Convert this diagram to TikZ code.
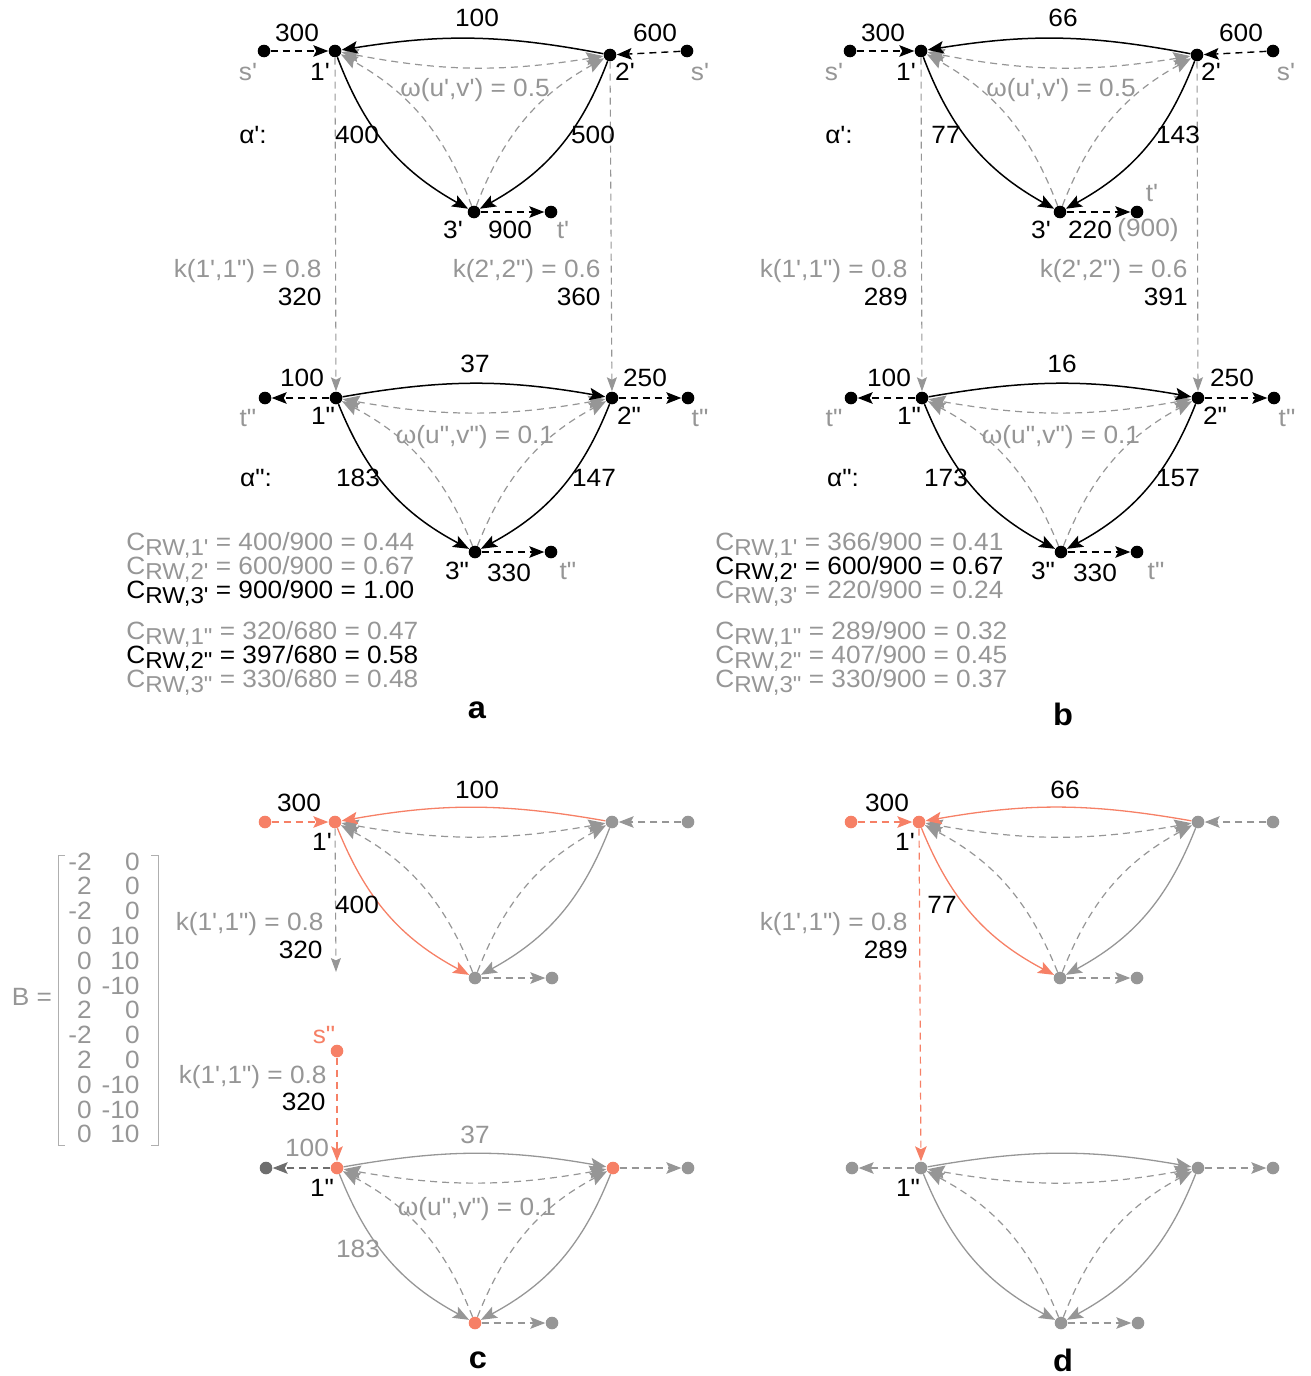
\documentclass[tikz,border=0pt]{standalone}
\usepackage{fontspec}
\newfontfamily\lsans{Liberation Sans}[FakeStretch=1.05]
\usetikzlibrary{arrows.meta}
\definecolor{gr}{RGB}{150,150,150}
\definecolor{lgr}{RGB}{175,175,175}
\definecolor{org}{RGB}{246,128,102}
\definecolor{dgr}{RGB}{110,110,110}
\newcommand{\crw}[1]{C\raisebox{-2.6pt}{\fontsize{11.5}{13}\selectfont RW,#1}}
\newcommand{\omarcs}[3]{%
  \draw[gbi] (#2) to[bend left=10] (#1);
  \draw[gdsh] (#3) to[bend right=20] (#1);
  \draw[gdsh] (#3) to[bend left=20] (#2);
}
\tikzset{
  dot/.style={circle,fill=black,draw=none,inner sep=0pt,minimum size=6.3pt},
  gdot/.style={dot,fill=gr},
  odot/.style={dot,fill=org},
  ddot/.style={dot,fill=dgr},
  sol/.style={line width=0.75pt,arrows={-Stealth[length=8pt,width=6.2pt,inset=1.6pt]}},
  gsol/.style={sol,draw=gr,line width=0.65pt},
  osol/.style={sol,draw=org,line width=0.65pt},
  dsh/.style={line width=0.7pt,dash pattern=on 3.5pt off 2.5pt,arrows={-Stealth[length=7.5pt,width=5.8pt,inset=1.5pt]}},
  gdsh/.style={dsh,draw=gr,line width=0.6pt,arrows={-Stealth[length=8.5pt,width=6.6pt,inset=1.2pt]}},
  vdsh/.style={dsh,draw=gr,line width=0.55pt,arrows={-Stealth[length=7pt,width=5pt,inset=1.2pt]}},
  odsh/.style={dsh,draw=org,line width=0.65pt},
  ddsh/.style={dsh,draw=dgr,line width=0.6pt},
  hdsh/.style={dsh,draw=gr,line width=0.6pt},
  gbi/.style={gdsh,arrows={Stealth[length=8.5pt,width=6.6pt,inset=1.2pt]-Stealth[length=8.5pt,width=6.6pt,inset=1.2pt]}},
  lbl/.style={inner sep=0pt},
  glbl/.style={lbl,text=gr},
  olbl/.style={lbl,text=org},
  panel/.style={lbl,font=\lsans\bfseries\fontsize{15.5}{18}\selectfont},
}
\begin{document}
\begin{tikzpicture}[x=0.5pt,y=-0.5pt,font=\lsans\fontsize{12.5}{15}\selectfont]
\useasboundingbox (0,0) rectangle (1311,1376);

% ================= panel a =================
\node[dot] (a1) at (335,51) {};
\node[dot] (a2) at (610,55) {};
\node[dot] (a3) at (474,212) {};
\node[dot] (asL) at (264,51) {};
\node[dot] (asR) at (687,51) {};
\node[dot] (at) at (551,212) {};
\node[dot] (aa1) at (336,398) {};
\node[dot] (aa2) at (612,398) {};
\node[dot] (aa3) at (475,552) {};
\node[dot] (aatL) at (265,398) {};
\node[dot] (aatR) at (688,398) {};
\node[dot] (aatB) at (551,552) {};
\omarcs{a1}{a2}{a3}
\omarcs{aa1}{aa2}{aa3}
\draw[vdsh] (a1) -- (aa1);
\draw[vdsh] (a2) -- (aa2);
\draw[sol] (a2) to[bend right=10] (a1);
\draw[sol] (a1) to[bend right=20] (a3);
\draw[sol] (a2) to[bend left=20] (a3);
\draw[dsh] (asL) -- (a1);
\draw[dsh] (asR) -- (a2);
\draw[dsh] (a3) -- (at);
\draw[sol] (aa1) to[bend left=10] (aa2);
\draw[sol] (aa1) to[bend right=20] (aa3);
\draw[sol] (aa2) to[bend left=20] (aa3);
\draw[dsh] (aa1) -- (aatL);
\draw[dsh] (aa2) -- (aatR);
\draw[dsh] (aa3) -- (aatB);

\node[lbl] (la1) at (297,33) {300};
\node[lbl] (la2) at (477,18) {100};
\node[lbl] (la3) at (655,33) {600};
\node[glbl] (la4) at (248,72) {s'};
\node[lbl] (la5) at (320,72) {1'};
\node[lbl] (la6) at (625,72) {2'};
\node[glbl] (la7) at (700,72) {s'};
\node[glbl] (la8) at (475,90) {ω(u',v') = 0.5};
\node[lbl] (la9) at (253,135) {α':};
\node[lbl] (la10) at (357,135) {400};
\node[lbl] (la11) at (593,135) {500};
\node[lbl] (la12) at (453,230) {3'};
\node[lbl] (la13) at (510,230) {900};
\node[glbl] (la14) at (563,230) {t'};
\node[glbl,anchor=east] (la15) at (322,271) {k(1',1") = 0.8};
\node[lbl,anchor=east] (la16) at (322,297) {320};
\node[glbl,anchor=east] (la17) at (601,271) {k(2',2") = 0.6};
\node[lbl,anchor=east] (la18) at (601,297) {360};
\node[lbl] (la19) at (302,378) {100};
\node[glbl] (la20) at (248,418) {t"};
\node[lbl] (la21) at (323,416) {1"};
\node[lbl] (la22) at (475,364) {37};
\node[lbl] (la23) at (645,378) {250};
\node[lbl] (la24) at (629,416) {2"};
\node[glbl] (la25) at (700,418) {t"};
\node[glbl] (la26) at (475,437) {ω(u",v") = 0.1};
\node[lbl] (la27) at (256,478) {α":};
\node[lbl] (la28) at (358,478) {183};
\node[lbl] (la29) at (594,478) {147};
\node[lbl] (la30) at (457,571) {3"};
\node[lbl] (la31) at (509,573) {330};
\node[glbl] (la32) at (568,571) {t"};
\node[glbl,anchor=base west] (ca1) at (126,550) {\crw{1'} = 400/900 = 0.44};
\node[glbl,anchor=base west] (ca2) at (126,574) {\crw{2'} = 600/900 = 0.67};
\node[lbl,anchor=base west] (ca3) at (126,598) {\crw{3'} = 900/900 = 1.00};
\node[glbl,anchor=base west] (ca4) at (126,639) {\crw{1"} = 320/680 = 0.47};
\node[lbl,anchor=base west] (ca5) at (126,663) {\crw{2"} = 397/680 = 0.58};
\node[glbl,anchor=base west] (ca6) at (126,687) {\crw{3"} = 330/680 = 0.48};
\node[panel] (pa) at (477,710) {a};

% ================= panel b =================
\node[dot] (b1) at (921,51) {};
\node[dot] (b2) at (1197,55) {};
\node[dot] (b3) at (1060,212) {};
\node[dot] (bsL) at (850,51) {};
\node[dot] (bsR) at (1273,51) {};
\node[dot] (bt) at (1137,212) {};
\node[dot] (bb1) at (922,398) {};
\node[dot] (bb2) at (1198,398) {};
\node[dot] (bb3) at (1061,552) {};
\node[dot] (bbtL) at (851,398) {};
\node[dot] (bbtR) at (1274,398) {};
\node[dot] (bbtB) at (1137,552) {};
\omarcs{b1}{b2}{b3}
\omarcs{bb1}{bb2}{bb3}
\draw[vdsh] (b1) -- (bb1);
\draw[vdsh] (b2) -- (bb2);
\draw[sol] (b2) to[bend right=10] (b1);
\draw[sol] (b1) to[bend right=20] (b3);
\draw[sol] (b2) to[bend left=20] (b3);
\draw[dsh] (bsL) -- (b1);
\draw[dsh] (bsR) -- (b2);
\draw[dsh] (b3) -- (bt);
\draw[sol] (bb1) to[bend left=10] (bb2);
\draw[sol] (bb1) to[bend right=20] (bb3);
\draw[sol] (bb2) to[bend left=20] (bb3);
\draw[dsh] (bb1) -- (bbtL);
\draw[dsh] (bb2) -- (bbtR);
\draw[dsh] (bb3) -- (bbtB);

\node[lbl] (lb1) at (883,33) {300};
\node[lbl] (lb2) at (1063,18) {66};
\node[lbl] (lb3) at (1241,33) {600};
\node[glbl] (lb4) at (834,72) {s'};
\node[lbl] (lb5) at (906,72) {1'};
\node[lbl] (lb6) at (1211,72) {2'};
\node[glbl] (lb7) at (1286,72) {s'};
\node[glbl] (lb8) at (1061,90) {ω(u',v') = 0.5};
\node[lbl] (lb9) at (839,135) {α':};
\node[lbl] (lb10) at (946,135) {77};
\node[lbl] (lb11) at (1178,135) {143};
\node[glbl] (lb12) at (1152,193) {t'};
\node[lbl] (lb13) at (1041,230) {3'};
\node[lbl] (lb14) at (1090,230) {220};
\node[glbl] (lb15) at (1148,230) {(900)};
\node[glbl,anchor=east] (lb16) at (908,271) {k(1',1") = 0.8};
\node[lbl,anchor=east] (lb17) at (908,297) {289};
\node[glbl,anchor=east] (lb18) at (1188,271) {k(2',2") = 0.6};
\node[lbl,anchor=east] (lb19) at (1188,297) {391};
\node[lbl] (lb20) at (889,378) {100};
\node[glbl] (lb21) at (834,418) {t"};
\node[lbl] (lb22) at (909,416) {1"};
\node[lbl] (lb23) at (1062,364) {16};
\node[lbl] (lb24) at (1232,378) {250};
\node[lbl] (lb25) at (1215,416) {2"};
\node[glbl] (lb26) at (1287,418) {t"};
\node[glbl] (lb27) at (1061,437) {ω(u",v") = 0.1};
\node[lbl] (lb28) at (843,478) {α":};
\node[lbl] (lb29) at (946,478) {173};
\node[lbl] (lb30) at (1178,478) {157};
\node[lbl] (lb31) at (1043,571) {3"};
\node[lbl] (lb32) at (1095,573) {330};
\node[glbl] (lb33) at (1156,571) {t"};
\node[glbl,anchor=base west] (cb1) at (715,550) {\crw{1'} = 366/900 = 0.41};
\node[lbl,anchor=base west] (cb2) at (715,574) {\crw{2'} = 600/900 = 0.67};
\node[glbl,anchor=base west] (cb3) at (715,598) {\crw{3'} = 220/900 = 0.24};
\node[glbl,anchor=base west] (cb4) at (715,639) {\crw{1"} = 289/900 = 0.32};
\node[glbl,anchor=base west] (cb5) at (715,663) {\crw{2"} = 407/900 = 0.45};
\node[glbl,anchor=base west] (cb6) at (715,687) {\crw{3"} = 330/900 = 0.37};
\node[panel] (pb) at (1063,714) {b};

% ================= panel c =================
\node[odot] (c1) at (335,822) {};
\node[gdot] (c2) at (612,822) {};
\node[gdot] (c3) at (475,978) {};
\node[odot] (csL) at (265,822) {};
\node[gdot] (csR) at (688,822) {};
\node[gdot] (ct) at (552,978) {};
\coordinate (cv) at (336,972);
\node[odot] (css) at (337,1051) {};
\node[odot] (cc1) at (337,1168) {};
\node[odot] (cc2) at (613,1168) {};
\node[odot] (cc3) at (475,1323) {};
\node[ddot] (cctL) at (266,1168) {};
\node[gdot] (cctR) at (688,1168) {};
\node[gdot] (cctB) at (552,1323) {};
\omarcs{c1}{c2}{c3}
\omarcs{cc1}{cc2}{cc3}
\draw[vdsh] (c1) -- (cv);
\draw[osol] (c2) to[bend right=10] (c1);
\draw[osol] (c1) to[bend right=20] (c3);
\draw[gsol] (c2) to[bend left=20] (c3);
\draw[odsh] (csL) -- (c1);
\draw[hdsh] (csR) -- (c2);
\draw[hdsh] (c3) -- (ct);
\draw[odsh] (css) -- (cc1);
\draw[gsol] (cc1) to[bend left=10] (cc2);
\draw[gsol] (cc1) to[bend right=20] (cc3);
\draw[gsol] (cc2) to[bend left=20] (cc3);
\draw[ddsh] (cc1) -- (cctL);
\draw[hdsh] (cc2) -- (cctR);
\draw[hdsh] (cc3) -- (cctB);

\node[lbl] (lc1) at (299,803) {300};
\node[lbl] (lc2) at (322,842) {1'};
\node[lbl] (lc3) at (477,790) {100};
\node[lbl] (lc4) at (357,905) {400};
\node[glbl,anchor=east] (lc5) at (324,924) {k(1',1") = 0.8};
\node[lbl,anchor=east] (lc6) at (323,950) {320};
\node[olbl] (lc7) at (324,1035) {s"};
\node[glbl,anchor=east] (lc8) at (327,1077) {k(1',1") = 0.8};
\node[lbl,anchor=east] (lc9) at (326,1102) {320};
\node[glbl] (lc10) at (307,1148) {100};
\node[lbl] (lc11) at (322,1188) {1"};
\node[glbl] (lc12) at (475,1135) {37};
\node[glbl] (lc13) at (477,1209) {ω(u",v") = 0.1};
\node[glbl] (lc14) at (358,1249) {183};
\node[panel] (pc) at (478,1360) {c};

% matrix B
\node[glbl] (lB) at (32,997) {B =};
\draw[lgr,line width=0.5pt] (65,855) -- (58,855) -- (58,1145) -- (65,1145);
\draw[lgr,line width=0.5pt] (151,855) -- (158,855) -- (158,1145) -- (151,1145);
\foreach \i/\u/\v in {0/-2/0,1/2/0,2/-2/0,3/0/10,4/0/10,5/0/-10,6/2/0,7/-2/0,8/2/0,9/0/-10,10/0/-10,11/0/10}{
  \node[glbl,anchor=base east] (mu\i) at (92,870+24.8*\i) {\u};
  \node[glbl,anchor=base east] (mv\i) at (140,870+24.8*\i) {\v};
}

% ================= panel d =================
\node[odot] (d1) at (919,822) {};
\node[gdot] (d2) at (1198,822) {};
\node[gdot] (d3) at (1060,978) {};
\node[odot] (dsL) at (851,822) {};
\node[gdot] (dsR) at (1273,822) {};
\node[gdot] (dt) at (1137,978) {};
\node[gdot] (dd1) at (921,1168) {};
\node[gdot] (dd2) at (1198,1168) {};
\node[gdot] (dd3) at (1061,1323) {};
\node[gdot] (ddtL) at (852,1168) {};
\node[gdot] (ddtR) at (1273,1168) {};
\node[gdot] (ddtB) at (1138,1323) {};
\omarcs{d1}{d2}{d3}
\omarcs{dd1}{dd2}{dd3}
\draw[odsh,line width=0.6pt] (d1) -- (dd1);
\draw[osol] (d2) to[bend right=10] (d1);
\draw[osol] (d1) to[bend right=20] (d3);
\draw[gsol] (d2) to[bend left=20] (d3);
\draw[odsh] (dsL) -- (d1);
\draw[hdsh] (dsR) -- (d2);
\draw[hdsh] (d3) -- (dt);
\draw[gsol] (dd1) to[bend left=10] (dd2);
\draw[gsol] (dd1) to[bend right=20] (dd3);
\draw[gsol] (dd2) to[bend left=20] (dd3);
\draw[hdsh] (dd1) -- (ddtL);
\draw[hdsh] (dd2) -- (ddtR);
\draw[hdsh] (dd3) -- (ddtB);

\node[lbl] (ld1) at (887,803) {300};
\node[lbl] (ld2) at (905,842) {1'};
\node[lbl] (ld3) at (1065,790) {66};
\node[lbl] (ld4) at (942,905) {77};
\node[glbl,anchor=east] (ld5) at (908,924) {k(1',1") = 0.8};
\node[lbl,anchor=east] (ld6) at (908,950) {289};
\node[lbl] (ld7) at (908,1188) {1"};
\node[panel] (pd) at (1063,1360) {d};
\end{tikzpicture}
\end{document}
